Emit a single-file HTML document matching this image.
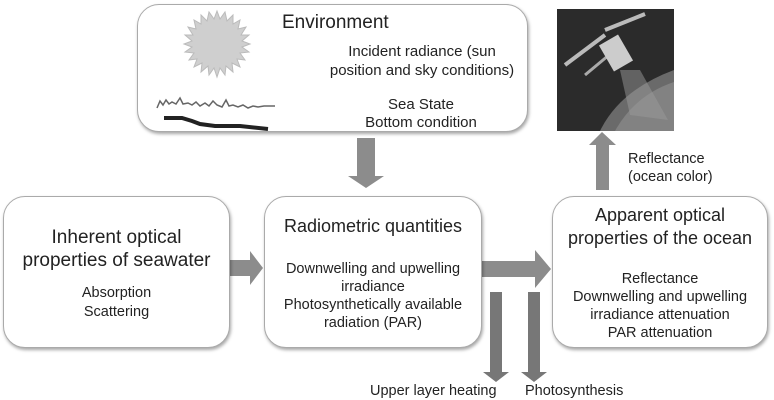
<!DOCTYPE html>
<html><head><meta charset="utf-8"><style>
body{margin:0;width:774px;height:400px;background:#fff;position:relative;overflow:hidden;font-family:"Liberation Sans",Arial,sans-serif;color:#222}
.box{position:absolute;border:1.5px solid #aaa;border-radius:22px;background:#fff;box-shadow:1px 2px 3px rgba(0,0,0,.35);box-sizing:border-box}
.t{position:absolute;text-align:center;white-space:nowrap}
.h{font-size:19px;line-height:23px}
.b{font-size:14.5px;line-height:17px}
</style></head><body>
<svg width="774" height="400" style="position:absolute;left:0;top:0">
<g fill="#8c8c8c">
<polygon points="357,138 375,138 375,176 384,176 366,188 348,176 357,176"/>
<polygon points="229,260 250,260 250,251 263,268 250,285 250,276 229,276"/>
<polygon points="482,261 535,261 535,250 551,269 535,288 535,277 482,277"/>
<polygon points="490,292 502,292 502,372 509,372 496,382 483,372 490,372" fill="#777"/>
<polygon points="528,292 540,292 540,372 547,372 534,382 521,372 528,372" fill="#777"/>
<polygon points="596,190 609,190 609,145 616,145 602,132 589,145 596,145"/>
</g>
</svg>
<div class="box" style="left:137px;top:4px;width:391px;height:128px"></div>
<svg width="774" height="400" style="position:absolute;left:0;top:0">
<polygon fill="#cfcfcf" stroke="#bbb" stroke-width="1" points="
217,11 220,19 225,12 227,21 233,15 233,24 240,20 238,29 246,27 241,35 249,35 242,41 250,44 242,47 249,52 240,53 245,60 237,59 240,67 232,63 233,72 226,66 225,75 220,68 217,77 214,68 209,75 208,66 201,72 202,63 194,67 197,59 189,60 194,53 185,52 192,47 184,44 192,41 185,35 193,35 188,27 196,29 194,20 201,24 201,15 207,21 209,12 214,19"/>
<polyline fill="none" stroke="#666" stroke-width="1.5" points="157,108 160,101 163,105 166,100 169,104 172,102 176,104 180,98 183,104 188,103 192,105 196,102 200,106 205,103 209,106 213,101 217,105 222,107 226,100 229,106 233,105 238,107 243,105 248,108 253,106 258,107 264,106 275,106"/>
<polyline fill="none" stroke="#222" stroke-width="4" points="164,118 182,118 192,121 200,124 215,126 240,126 268,129"/>
<rect x="557" y="9" width="117" height="122" fill="#2b2b2b"/>
<path d="M600,131 Q620,90 674,70 L674,131Z" fill="#6a6a6a"/>
<path d="M615,131 Q635,95 674,82 L674,131Z" fill="#828282"/>
<polygon points="620,70 640,70 668,120 630,115" fill="#999" opacity=".5"/>
<line x1="565" y1="65" x2="605" y2="35" stroke="#bbb" stroke-width="4"/>
<line x1="605" y1="30" x2="645" y2="14" stroke="#bbb" stroke-width="4"/>
<line x1="585" y1="75" x2="615" y2="50" stroke="#aaa" stroke-width="3"/>
<rect x="605" y="38" width="22" height="30" fill="#ccc" transform="rotate(-30 616 53)"/>
</svg>
<div class="t h" style="left:282px;top:11px;text-align:left;font-size:19px">Environment</div>
<div class="t b" style="left:322px;top:42px;width:200px;line-height:19px;font-size:15px">Incident radiance (sun<br>position and sky conditions)</div>
<div class="t b" style="left:346px;top:96px;width:150px;line-height:18px;font-size:15px">Sea State<br>Bottom condition</div>

<div class="box" style="left:3px;top:196px;width:227px;height:152px"></div>
<div class="t h" style="left:3px;top:226px;width:227px">Inherent optical<br>properties of seawater</div>
<div class="t b" style="left:3px;top:284px;width:227px;line-height:19px">Absorption<br>Scattering</div>

<div class="box" style="left:264px;top:196px;width:218px;height:152px"></div>
<div class="t h" style="left:264px;top:215px;width:218px;font-size:18px">Radiometric quantities</div>
<div class="t b" style="left:264px;top:260px;width:218px;line-height:18px">Downwelling and upwelling<br>irradiance<br>Photosynthetically available<br>radiation (PAR)</div>

<div class="box" style="left:552px;top:196px;width:216px;height:152px"></div>
<div class="t h" style="left:552px;top:204px;width:216px;font-size:18px">Apparent optical<br>properties of the ocean</div>
<div class="t b" style="left:552px;top:270px;width:216px;line-height:18px">Reflectance<br>Downwelling and upwelling<br>irradiance attenuation<br>PAR attenuation</div>

<div class="t b" style="left:628px;top:150px;text-align:left;line-height:18px">Reflectance<br>(ocean color)</div>
<div class="t b" style="left:370px;top:383px">Upper layer heating</div>
<div class="t b" style="left:525px;top:383px">Photosynthesis</div>
</body></html>
